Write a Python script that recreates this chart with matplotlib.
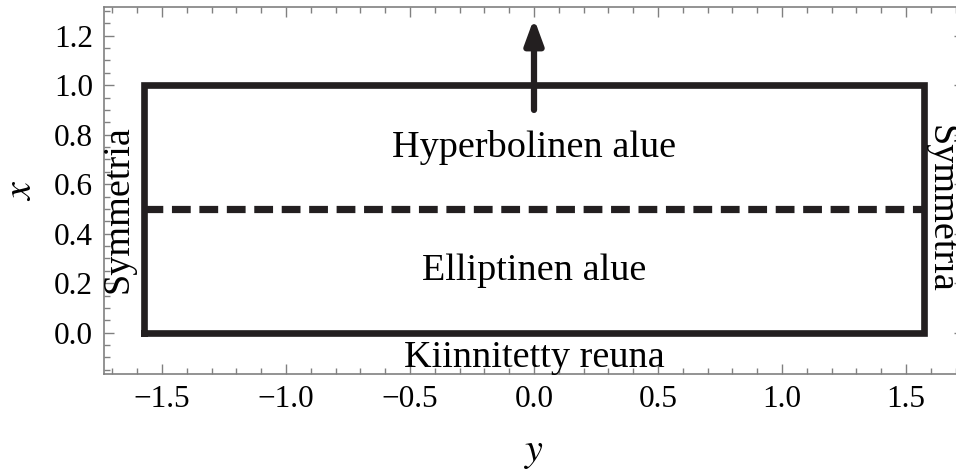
import numpy as np
import matplotlib.pyplot as plt
from matplotlib.ticker import MultipleLocator

plt.rcParams['font.family'] = 'Liberation Serif'
plt.rcParams['mathtext.fontset'] = 'stix'

# domain: y in [-pi/2, pi/2], x in [0, 1]
box_y = [-np.pi / 2, np.pi / 2, np.pi / 2, -np.pi / 2, -np.pi / 2]
box_x = [0.0, 0.0, 1.0, 1.0, 0.0]
split_y = [-np.pi / 2, np.pi / 2]
split_x = [0.5, 0.5]
arrow_from = (0.0, 0.9)
arrow_to = (0.0, 1.27)

labels = ['Hyperbolinen alue', 'Elliptinen alue', 'Kiinnitetty reuna', 'Symmetria', 'Symmetria']
label_pos = [(0.0, 0.75), (0.0, 0.25), (0.0, -0.1), (-1.675, 0.5), (1.64, 0.5)]
label_rot = [0, 0, 0, 90, -90]

line_col = '#231f20'
frame_col = '#808080'

W, H = 956, 472
fig = plt.figure(figsize=(W / 100, H / 100), dpi=100)
ax = fig.add_axes([104 / W, (H - 374) / H, (964 - 104) / W, (374 - 7) / H])

ax.plot(box_y, box_x, color=line_col, lw=4.8, solid_joinstyle='miter')
ax.plot(split_y, split_x, color=line_col, lw=5.2, linestyle=(0, (2.6, 1.2)))
ax.annotate('', xy=arrow_to, xytext=arrow_from,
            arrowprops=dict(arrowstyle='-|>,head_length=1.5,head_width=0.55',
                            color=line_col, lw=4.5, shrinkA=0, shrinkB=0))

for t, p, r in zip(labels, label_pos, label_rot):
    ax.text(p[0], p[1], t, rotation=r, ha='center', va='center', fontsize=27.5)

ax.set_xlim(-1.734, 1.734)
ax.set_ylim(-0.167, 1.316)
ax.xaxis.set_major_locator(MultipleLocator(0.5))
ax.xaxis.set_minor_locator(MultipleLocator(0.1))
ax.yaxis.set_major_locator(MultipleLocator(0.2))
ax.yaxis.set_minor_locator(MultipleLocator(0.05))
ax.xaxis.set_major_formatter(lambda v, p: f'{v:.1f}'.replace('-', '\u2212'))
ax.yaxis.set_major_formatter(lambda v, p: f'{v:.1f}'.replace('-', '\u2212'))

ax.tick_params(which='both', direction='in', top=True, right=True,
               color=frame_col, width=1.0, labelsize=22.5, pad=8)
ax.tick_params(which='major', length=7)
ax.tick_params(which='minor', length=4.3)
for s in ax.spines.values():
    s.set_color(frame_col)
    s.set_linewidth(1.2)

ax.set_xlabel('$y$', fontsize=29, labelpad=14)
ax.set_ylabel('$x$', fontsize=29, labelpad=10)

fig.savefig('out.png', dpi=100)
